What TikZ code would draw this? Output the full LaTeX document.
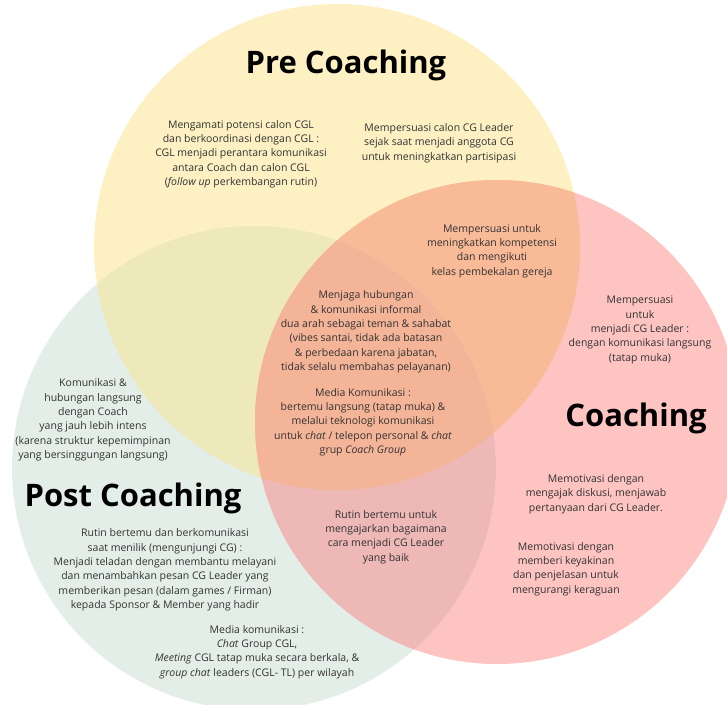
\documentclass[tikz,border=0pt]{standalone}
\usepackage{fontspec}
\setmainfont{Open Sans}
\begin{document}
\begin{tikzpicture}[x=1pt,y=-1pt]
\useasboundingbox (0,0) rectangle (727,704);
% region colours
\definecolor{preY}{HTML}{FDF1C3}
\definecolor{coachR}{HTML}{FDC4C2}
\definecolor{postG}{HTML}{E3EEE8}
\definecolor{mixYR}{HTML}{F9BA98}
\definecolor{mixYG}{HTML}{EEE9BB}
\definecolor{mixRG}{HTML}{EDB8B6}
\definecolor{mixAll}{HTML}{F4B497}
\definecolor{txt}{HTML}{333333}
\tikzset{
  title/.style={font=\fontsize{31}{36}\selectfont\bfseries, text=black, inner sep=0pt},
  body/.style={font=\fontsize{10.5}{14.3}\selectfont, text=txt, align=center, inner sep=0pt}
}
% the three circles
\def\Ycirc{(337,247) circle[radius=243pt]}
\def\Rcirc{(497,422) circle[radius=242pt]}
\def\Gcirc{(254,468) circle[radius=242pt]}
\fill[preY] \Ycirc;
\fill[coachR] \Rcirc;
\fill[postG] \Gcirc;
\begin{scope}\clip \Ycirc; \fill[mixYR] \Rcirc; \end{scope}
\begin{scope}\clip \Ycirc; \fill[mixYG] \Gcirc; \end{scope}
\begin{scope}\clip \Rcirc; \fill[mixRG] \Gcirc; \end{scope}
\begin{scope}\clip \Ycirc; \clip \Rcirc; \fill[mixAll] \Gcirc; \end{scope}

% titles
\node[title] (pre) at (346,65) {Pre Coaching};
\node[title] (coach) at (636,418) {Coaching};
\node[title] (post) at (133,498) {Post Coaching};

% Pre Coaching
\node[body] (pre1) at (241,154) {Mengamati potensi calon CGL\\dan berkoordinasi dengan CGL :\\CGL menjadi perantara komunikasi\\antara Coach dan calon CGL\\(\textit{follow up} perkembangan rutin)};
\node[body] (pre2) at (439,143) {Mempersuasi calon CG Leader\\sejak saat menjadi anggota CG\\untuk meningkatkan partisipasi};

% Pre + Coaching
\node[body] (precoach) at (492,251) {Mempersuasi untuk\\meningkatkan kompetensi\\dan mengikuti\\kelas pembekalan gereja};

% Coaching
\node[body] (coach1) at (640,330) {Mempersuasi\\untuk\\menjadi CG Leader :\\dengan komunikasi langsung\\(tatap muka)};
\node[body] (coach2) at (596,494) {Memotivasi dengan\\mengajak diskusi, menjawab\\pertanyaan dari CG Leader.};
\node[body] (coach3) at (566,569) {Memotivasi dengan\\memberi keyakinan\\dan penjelasan untuk\\mengurangi keraguan};

% all three
\node[body] (all1) at (366,332) {Menjaga hubungan\\\& komunikasi informal\\dua arah sebagai teman \& sahabat\\(vibes santai, tidak ada batasan\\\& perbedaan karena jabatan,\\tidak selalu membahas pelayanan)};
\node[body] (all2) at (363,422) {Media Komunikasi :\\bertemu langsung (tatap muka) \&\\melalui teknologi komunikasi\\untuk \textit{chat} / telepon personal \& \textit{chat}\\grup \textit{Coach Group}};

% Pre + Post
\node[body] (prepost) at (93,420) {Komunikasi \&\\hubungan langsung\\dengan Coach\\yang jauh lebih intens\\(karena struktur kepemimpinan\\yang bersinggungan langsung)};

% Coaching + Post
\node[body] (coachpost) at (386,537) {Rutin bertemu untuk\\mengajarkan bagaimana\\cara menjadi CG Leader\\yang baik};

% Post Coaching
\node[body] (post1) at (165,570) {Rutin bertemu dan berkomunikasi\\saat menilik (mengunjungi CG) :\\Menjadi teladan dengan membantu melayani\\dan menambahkan pesan CG Leader yang\\memberikan pesan (dalam games / Firman)\\kepada Sponsor \& Member yang hadir};
\node[body] (post2) at (257,652) {Media komunikasi :\\\textit{Chat} Group CGL,\\\textit{Meeting} CGL tatap muka secara berkala, \&\\\textit{group chat} leaders (CGL- TL) per wilayah};
\end{tikzpicture}
\end{document}
